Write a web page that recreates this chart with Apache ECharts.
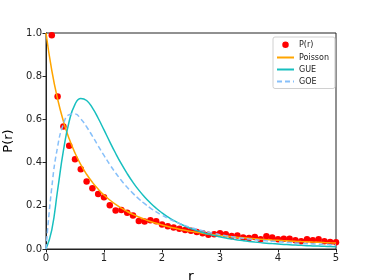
<!DOCTYPE html>
<html>
<head>
<meta charset="utf-8">
<script src="https://cdn.jsdelivr.net/npm/echarts@6/dist/echarts.min.js"></script>
<style>html,body{margin:0;padding:0;background:#fff}#c{width:374px;height:280px}</style>
</head>
<body>
<div id="c"></div>
<script>
// Measured P(r) points (r = 0.1 ... 5.0)
var rPts = [0.1,0.2,0.3,0.4,0.5,0.6,0.7,0.8,0.9,1.0,1.1,1.2,1.3,1.4,1.5,1.6,1.7,1.8,1.9,2.0,2.1,2.2,2.3,2.4,2.5,2.6,2.7,2.8,2.9,3.0,3.1,3.2,3.3,3.4,3.5,3.6,3.7,3.8,3.9,4.0,4.1,4.2,4.3,4.4,4.5,4.6,4.7,4.8,4.9,5.0];
var pr = [0.990,0.706,0.567,0.478,0.416,0.369,0.312,0.281,0.255,0.240,0.202,0.178,0.181,0.168,0.155,0.130,0.127,0.133,0.128,0.113,0.105,0.099,0.094,0.088,0.085,0.079,0.073,0.066,0.068,0.073,0.068,0.060,0.063,0.053,0.051,0.056,0.045,0.059,0.053,0.045,0.048,0.048,0.040,0.036,0.045,0.040,0.045,0.036,0.032,0.031];
// Reference curves sampled at r = 0.0 ... 5.0
var rCurve = [0,0.1,0.2,0.3,0.4,0.5,0.6,0.7,0.8,0.9,1.0,1.1,1.2,1.3,1.4,1.5,1.6,1.7,1.8,1.9,2.0,2.1,2.2,2.3,2.4,2.5,2.6,2.7,2.8,2.9,3.0,3.1,3.2,3.3,3.4,3.5,3.6,3.7,3.8,3.9,4.0,4.1,4.2,4.3,4.4,4.5,4.6,4.7,4.8,4.9,5.0];
var poisson = [1,0.8264,0.6944,0.5917,0.5102,0.4444,0.3906,0.3460,0.3086,0.2770,0.25,0.2268,0.2066,0.1890,0.1736,0.16,0.1479,0.1372,0.1276,0.1189,0.1111,0.1041,0.0977,0.0918,0.0865,0.0816,0.0772,0.0730,0.0693,0.0657,0.0625,0.0595,0.0567,0.0541,0.0517,0.0494,0.0473,0.0453,0.0434,0.0416,0.04,0.0384,0.0370,0.0356,0.0343,0.0331,0.0319,0.0308,0.0297,0.0287,0.0278];
var gue = [0,0.0890,0.2720,0.4549,0.5912,0.6696,0.6972,0.6873,0.6531,0.6053,0.5513,0.4963,0.4432,0.3938,0.3488,0.3084,0.2725,0.2409,0.2131,0.1887,0.1674,0.1487,0.1324,0.1181,0.1056,0.0946,0.0849,0.0764,0.0689,0.0622,0.0563,0.0510,0.0464,0.0422,0.0385,0.0352,0.0322,0.0295,0.0271,0.0249,0.0230,0.0212,0.0196,0.0181,0.0168,0.0156,0.0144,0.0134,0.0125,0.0117,0.0109];
var goe = [0,0.2860,0.4731,0.5778,0.6218,0.6248,0.6024,0.5659,0.5226,0.4774,0.4330,0.3911,0.3525,0.3173,0.2857,0.2574,0.2321,0.2097,0.1897,0.1720,0.1562,0.1422,0.1296,0.1185,0.1084,0.0995,0.0914,0.0842,0.0777,0.0718,0.0665,0.0616,0.0572,0.0533,0.0496,0.0463,0.0433,0.0405,0.0379,0.0356,0.0334,0.0314,0.0296,0.0279,0.0263,0.0248,0.0235,0.0222,0.0210,0.0199,0.0189];
var xTicks = [0,1,2,3,4,5];
var yTicks = [0.0,0.2,0.4,0.6,0.8,1.0];

function pairs(xs, ys){ return xs.map(function(x,i){ return [x, ys[i]]; }); }

var font = 'DejaVu Sans';
var chart = echarts.init(document.getElementById('c'), null, {renderer:'canvas'});
chart.setOption({
  animation: false,
  backgroundColor: '#fff',
  grid: {left: 46, right: 38, top: 33, bottom: 31, containLabel: false, outerBoundsMode: 'none',
         show: true, borderColor: '#222', borderWidth: 1},
  xAxis: {
    type: 'value', min: xTicks[0], max: xTicks[xTicks.length-1], interval: 1,
    name: 'r', nameLocation: 'middle', nameGap: 21,
    nameTextStyle: {fontFamily: font, fontSize: 14, color: '#000'},
    axisLine: {show: true, lineStyle: {color: '#222', width: 1}},
    axisTick: {show: true, inside: false, length: 3.5, lineStyle: {color: '#222'}},
    axisLabel: {fontFamily: font, fontSize: 10, color: '#222', margin: 4},
    splitLine: {show: false}
  },
  yAxis: {
    type: 'value', min: yTicks[0], max: yTicks[yTicks.length-1], interval: 0.2,
    name: 'P(r)', nameLocation: 'middle', nameGap: 29,
    nameTextStyle: {fontFamily: font, fontSize: 13, color: '#000'},
    axisLine: {show: true, lineStyle: {color: '#222', width: 1}},
    axisTick: {show: true, inside: false, length: 3.5, lineStyle: {color: '#222'}},
    axisLabel: {fontFamily: font, fontSize: 10, color: '#222', margin: 4, formatter: function(v){ return v.toFixed(1); }},
    splitLine: {show: false}
  },
  legend: {
    orient: 'vertical', left: 273, top: 37,
    padding: [3, 6, 3, 3],
    itemWidth: 17, itemHeight: 8, itemGap: 4,
    borderColor: '#d0d0d0', borderWidth: 1, borderRadius: 2,
    backgroundColor: 'rgba(255,255,255,0.8)',
    textStyle: {fontFamily: font, fontSize: 8, color: '#222'},
    data: [
      {name: 'P(r)', icon: 'circle', itemStyle: {color: '#ff0000', opacity: 1, borderColor: '#ffffff', borderWidth: 1.5}},
      {name: 'Poisson', itemStyle: {opacity: 0}},
      {name: 'GUE', itemStyle: {opacity: 0}},
      {name: 'GOE', itemStyle: {opacity: 0}}
    ]
  },
  series: [
    {name: 'P(r)', type: 'scatter', data: pairs(rPts, pr), symbol: 'circle', symbolSize: 6.5,
     itemStyle: {color: '#ff0000', opacity: 1}, z: 2},
    {name: 'Poisson', type: 'line', data: pairs(rCurve, poisson), smooth: true, symbol: 'none', showSymbol: false,
     lineStyle: {color: '#ffa500', width: 1.5}, itemStyle: {color: '#ffa500'}, z: 3},
    {name: 'GUE', type: 'line', data: pairs(rCurve, gue), smooth: true, symbol: 'none', showSymbol: false,
     lineStyle: {color: '#17bfbf', width: 1.5}, itemStyle: {color: '#17bfbf'}, z: 3},
    {name: 'GOE', type: 'line', data: pairs(rCurve, goe), smooth: true, symbol: 'none', showSymbol: false,
     lineStyle: {color: '#87c0fa', width: 1.5, type: [5, 3]}, itemStyle: {color: '#87c0fa'}, z: 3}
  ]
});
</script>
</body>
</html>
